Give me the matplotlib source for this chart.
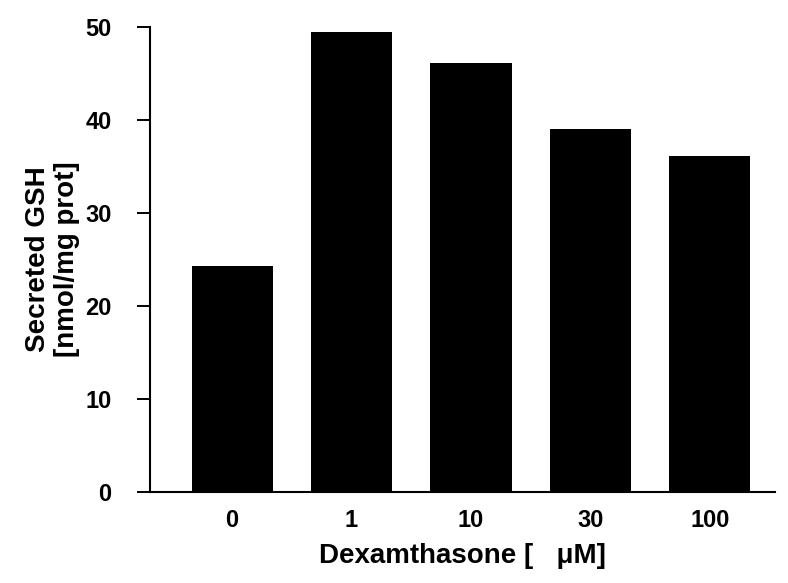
import matplotlib
matplotlib.use("Agg")
import matplotlib.pyplot as plt
import numpy as np

# data
doses = ["0", "1", "10", "30", "100"]
gsh = [24.3, 49.4, 46.1, 39.0, 36.1]
yticks = [0, 10, 20, 30, 40, 50]

plt.rcParams['font.family'] = ['Liberation Sans', 'DejaVu Sans']

fig = plt.figure(figsize=(7.88, 5.83), dpi=100)
ax = fig.add_axes([0.19, 0.156, 0.794, 0.798])

x = np.arange(len(doses))
ax.bar(x, gsh, width=0.68, color='black')

ax.set_xlim(-0.69, 4.55)
ax.set_ylim(0, 50)
ax.set_yticks(yticks)
ax.set_xticks(x)
ax.set_xticklabels(doses)
ax.tick_params(axis='x', length=0, pad=12, labelsize=17)
ax.tick_params(axis='y', length=9.5, width=1.4, labelsize=17, pad=18)
for lab in ax.get_yticklabels() + ax.get_xticklabels():
    lab.set_fontweight('bold')

ax.spines['top'].set_visible(False)
ax.spines['right'].set_visible(False)
ax.spines['left'].set_linewidth(1.5)
ax.spines['bottom'].set_linewidth(1.5)

ax.set_ylabel("Secreted GSH\n[nmol/mg prot]", fontsize=20, fontweight='bold',
              labelpad=4, linespacing=1.15)
ax.set_xlabel("Dexamthasone [   \u03bcM]", fontsize=20, fontweight='bold', labelpad=8)

fig.savefig("out.png", dpi=100)
